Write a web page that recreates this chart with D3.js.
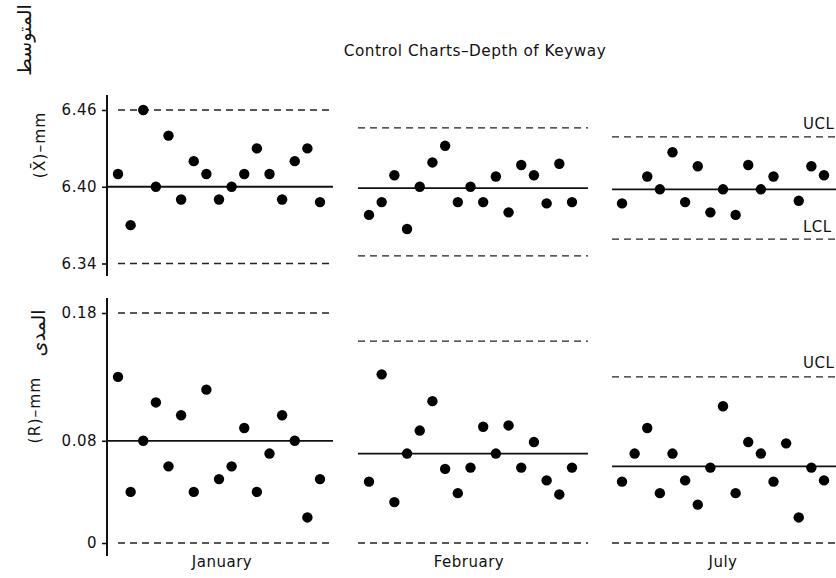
<!DOCTYPE html>
<html>
<head>
<meta charset="utf-8">
<script src="https://cdn.jsdelivr.net/npm/d3@7"></script>
<style>
  body { margin: 0; background: #fff; }
  text { font-family: "DejaVu Sans", sans-serif; fill: #111; }
</style>
</head>
<body>
<svg width="836" height="578"></svg>
<script>
// data (17 samples a month)
var months = ["January", "February", "July"];

var xbarJan = [6.41, 6.37, 6.46, 6.40, 6.44, 6.39, 6.42, 6.41, 6.39, 6.40, 6.41, 6.43, 6.41, 6.39, 6.42, 6.43, 6.388];
var xbarFeb = [6.378, 6.388, 6.409, 6.367, 6.40, 6.419, 6.432, 6.388, 6.40, 6.388, 6.408, 6.38, 6.417, 6.409, 6.387, 6.418, 6.388];
var xbarJul = [6.387, null, 6.408, 6.398, 6.427, 6.388, 6.416, 6.38, 6.398, 6.378, 6.417, 6.398, 6.408, null, 6.389, 6.416, 6.409];

var rangeJan = [0.13, 0.04, 0.08, 0.11, 0.06, 0.10, 0.04, 0.12, 0.05, 0.06, 0.09, 0.04, 0.07, 0.10, 0.08, 0.02, 0.05];
var rangeFeb = [0.048, 0.132, 0.032, 0.07, 0.088, 0.111, 0.058, 0.039, 0.059, 0.091, 0.07, 0.092, 0.059, 0.079, 0.049, 0.038, 0.059];
var rangeJul = [0.048, 0.07, 0.09, 0.039, 0.07, 0.049, 0.03, 0.059, 0.107, 0.039, 0.079, 0.07, 0.048, 0.078, 0.02, 0.059, 0.049];

var xbarCentre = [6.40, 6.399, 6.398],
    xbarUCL = [6.46, 6.446, 6.439],
    xbarLCL = [6.34, 6.346, 6.359];
var rangeCentre = [0.08, 0.07, 0.06],
    rangeUCL = [0.18, 0.158, 0.13],
    rangeLCL = [0, 0, 0];

var xbarTicks = [6.34, 6.40, 6.46],
    rangeTicks = [0, 0.08, 0.18];

var title = "Control Charts\u2013Depth of Keyway";

// layout
var svg = d3.select("svg"),
    axisX = 107;

var lineX = [[107, 333], [358, 588], [612, 850]],
    dashStart = [118, 358, 612],
    dotX = [[118, 320], [369, 572], [622, 824]];

var yTop = d3.scaleLinear().domain([6.34, 6.46]).range([263.5, 110]),
    yBot = d3.scaleLinear().domain([0, 0.18]).range([543, 313]);

var panels = [
  { y: yTop, values: [xbarJan, xbarFeb, xbarJul], centre: xbarCentre, ucl: xbarUCL, lcl: xbarLCL },
  { y: yBot, values: [rangeJan, rangeFeb, rangeJul], centre: rangeCentre, ucl: rangeUCL, lcl: rangeLCL }
];

panels.forEach(function(p) {
  months.forEach(function(m, i) {
    var g = svg.append("g");
    var x = d3.scaleLinear().domain([0, p.values[i].length - 1]).range(dotX[i]);

    [p.ucl[i], p.lcl[i]].forEach(function(v) {
      g.append("line")
        .attr("x1", dashStart[i]).attr("x2", lineX[i][1])
        .attr("y1", p.y(v)).attr("y2", p.y(v))
        .attr("stroke", "#222")
        .attr("stroke-width", 1.3)
        .attr("stroke-dasharray", "7,5");
    });

    g.append("line")
      .attr("x1", lineX[i][0]).attr("x2", lineX[i][1])
      .attr("y1", p.y(p.centre[i])).attr("y2", p.y(p.centre[i]))
      .attr("stroke", "#111")
      .attr("stroke-width", 1.8);

    g.selectAll("circle")
      .data(p.values[i].map(function(v, j) { return { i: j, v: v }; })
        .filter(function(d) { return d.v !== null; }))
      .enter().append("circle")
        .attr("cx", function(d) { return x(d.i); })
        .attr("cy", function(d) { return p.y(d.v); })
        .attr("r", 5.2)
        .attr("fill", "#000");
  });
});

// y axes
function fmt(d) { return d === 0 ? "0" : d3.format(".2f")(d); }

[[yTop, xbarTicks, 95, 276], [yBot, rangeTicks, 298, 556]].forEach(function(a) {
  var ax = svg.append("g")
    .attr("transform", "translate(" + axisX + ",0)")
    .call(d3.axisLeft(a[0]).tickValues(a[1]).tickFormat(fmt).tickSize(5).tickPadding(5));
  ax.select(".domain").remove();
  ax.selectAll("line").attr("stroke", "#111").attr("stroke-width", 1.6);
  ax.selectAll("text")
    .attr("fill", "#111")
    .style("font-size", "15px")
    .style("letter-spacing", "0.5px")
    .style("font-family", "DejaVu Sans");
  svg.append("line")
    .attr("x1", axisX).attr("x2", axisX)
    .attr("y1", a[2]).attr("y2", a[3])
    .attr("stroke", "#111")
    .attr("stroke-width", 2);
});

// title
svg.append("text")
  .attr("x", 475).attr("y", 56)
  .attr("text-anchor", "middle")
  .style("font-size", "15.3px")
  .style("letter-spacing", "0.5px")
  .text(title);

// month labels
var monthCx = [222, 469, 723];
svg.selectAll(".month")
  .data(months)
  .enter().append("text")
    .attr("class", "month")
    .attr("x", function(d, i) { return monthCx[i]; })
    .attr("y", 567)
    .attr("text-anchor", "middle")
    .style("font-size", "15px")
    .style("letter-spacing", "0.5px")
    .text(function(d) { return d; });

// limit labels on the right
[["UCL", 129], ["LCL", 232], ["UCL", 368]].forEach(function(l) {
  svg.append("text")
    .attr("x", 803).attr("y", l[1])
    .style("font-size", "15px")
    .style("letter-spacing", "0.5px")
    .text(l[0]);
});

// rotated axis titles
function vlabel(txt, cx, cy, size, spacing) {
  svg.append("text")
    .attr("transform", "translate(" + cx + "," + cy + ") rotate(-90)")
    .attr("text-anchor", "middle")
    .attr("dominant-baseline", "central")
    .style("font-size", size + "px")
    .style("letter-spacing", spacing + "px")
    .text(txt);
}

vlabel("(X\u0304)\u2013mm", 40, 145, 15.5, 1);
vlabel("(R)\u2013mm", 35, 410, 15.5, 1);
vlabel("\u0627\u0644\u0645\u062a\u0648\u0633\u0637", 24, 40, 19, 0);
vlabel("\u0627\u0644\u0645\u062f\u0649", 38, 333, 19, 0);
</script>
</body>
</html>
